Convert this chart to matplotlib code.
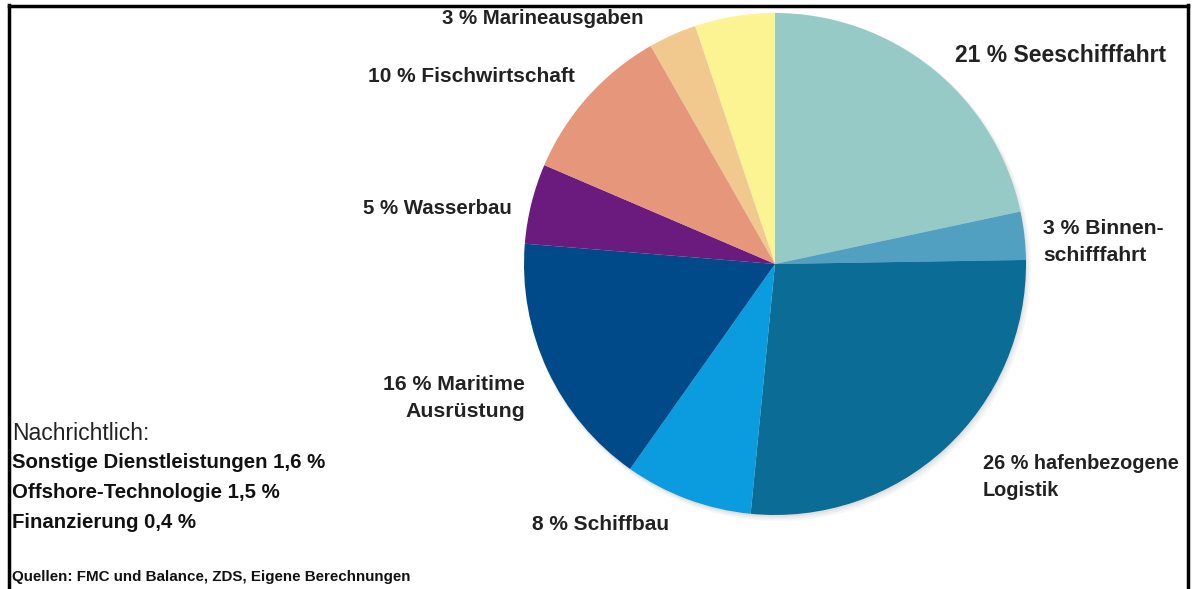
import matplotlib
matplotlib.use("Agg")
import matplotlib.pyplot as plt
from matplotlib.lines import Line2D

categories = ["Seeschifffahrt", "Binnenschifffahrt", "hafenbezogene Logistik", "Schiffbau",
              "Maritime Ausrüstung", "Wasserbau", "Fischwirtschaft", "Marineausgaben", "Sonstige"]
values = [21, 3, 26, 8, 16, 5, 10, 3, 5]
colors = ["#96cac7", "#519fc1", "#0b6c95", "#0b9ce0", "#014a89", "#6b1a7e", "#e6967a", "#f1c98e", "#fcf393"]
labels = ["21 % Seeschifffahrt", "3 % Binnen-\nschifffahrt", "26 % hafenbezogene\nLogistik", "8 % Schiffbau",
          "16 % Maritime\nAusrüstung", "5 % Wasserbau", "10 % Fischwirtschaft", "3 % Marineausgaben", ""]
notes_title = "Nachrichtlich:"
notes = ["Sonstige Dienstleistungen 1,6 %", "Offshore-Technologie 1,5 %", "Finanzierung 0,4 %"]
source = "Quellen: FMC und Balance, ZDS, Eigene Berechnungen"

FONT = ["Liberation Sans", "DejaVu Sans"]
plt.rcParams['font.family'] = FONT

W, H = 1192, 589
fig = plt.figure(figsize=(W / 100, H / 100), dpi=100)
ax = fig.add_axes([0, 0, 1, 1])

cx, cy, r = 775, H - 264, 251

# soft shadow
for i, a in enumerate([0.05, 0.06, 0.08]):
    ax.pie(values, startangle=90, counterclock=False, colors=["#555555"] * len(values),
           center=(cx + 3 - i, cy - 4 + i), radius=r + 2 - i, frame=True,
           wedgeprops=dict(linewidth=0, alpha=a))
ax.pie(values, startangle=90, counterclock=False, colors=colors, center=(cx, cy), radius=r,
       frame=True, wedgeprops=dict(linewidth=0))
ax.set_xlim(0, W)
ax.set_ylim(0, H)
ax.set_aspect("equal")
ax.axis("off")

tk = dict(color="#222222", fontweight="bold", linespacing=1.5)
pos = [(955, 55, "left", 16.5), (1043, 242, "left", 15.2), (983, 477, "left", 14.3), (532, 525, "left", 15),
       (525, 398, "right", 15.3), (512, 208, "right", 14.7), (575, 77, "right", 15),
       (643, 18, "right", 14.7)]
for (x, y, ha, fs), lab in zip(pos, labels):
    ax.text(x, H - y, lab, ha=ha, va="center", fontsize=fs, **tk)

ax.text(12, H - 433, notes_title, ha="left", va="center", fontsize=16.5, color="#222222")
for i, n in enumerate(notes):
    ax.text(12, H - (463 + 30 * i), n, ha="left", va="center", fontsize=14.7, color="#111111",
            fontweight="bold")
ax.text(12, H - 577, source, ha="left", va="center", fontsize=10.9, color="#111111", fontweight="bold")

# frame
fig.add_artist(Line2D([9 / W, 9 / W], [0, 1 - 5 / H], transform=fig.transFigure, color="black", lw=2.5))
fig.add_artist(Line2D([9 / W, 1188 / W], [1 - 6 / H, 1 - 6 / H], transform=fig.transFigure, color="black", lw=2.5))
fig.add_artist(Line2D([1188 / W, 1188 / W], [0, 1 - 5 / H], transform=fig.transFigure, color="black", lw=2.5))

fig.savefig("out.png", dpi=100)
